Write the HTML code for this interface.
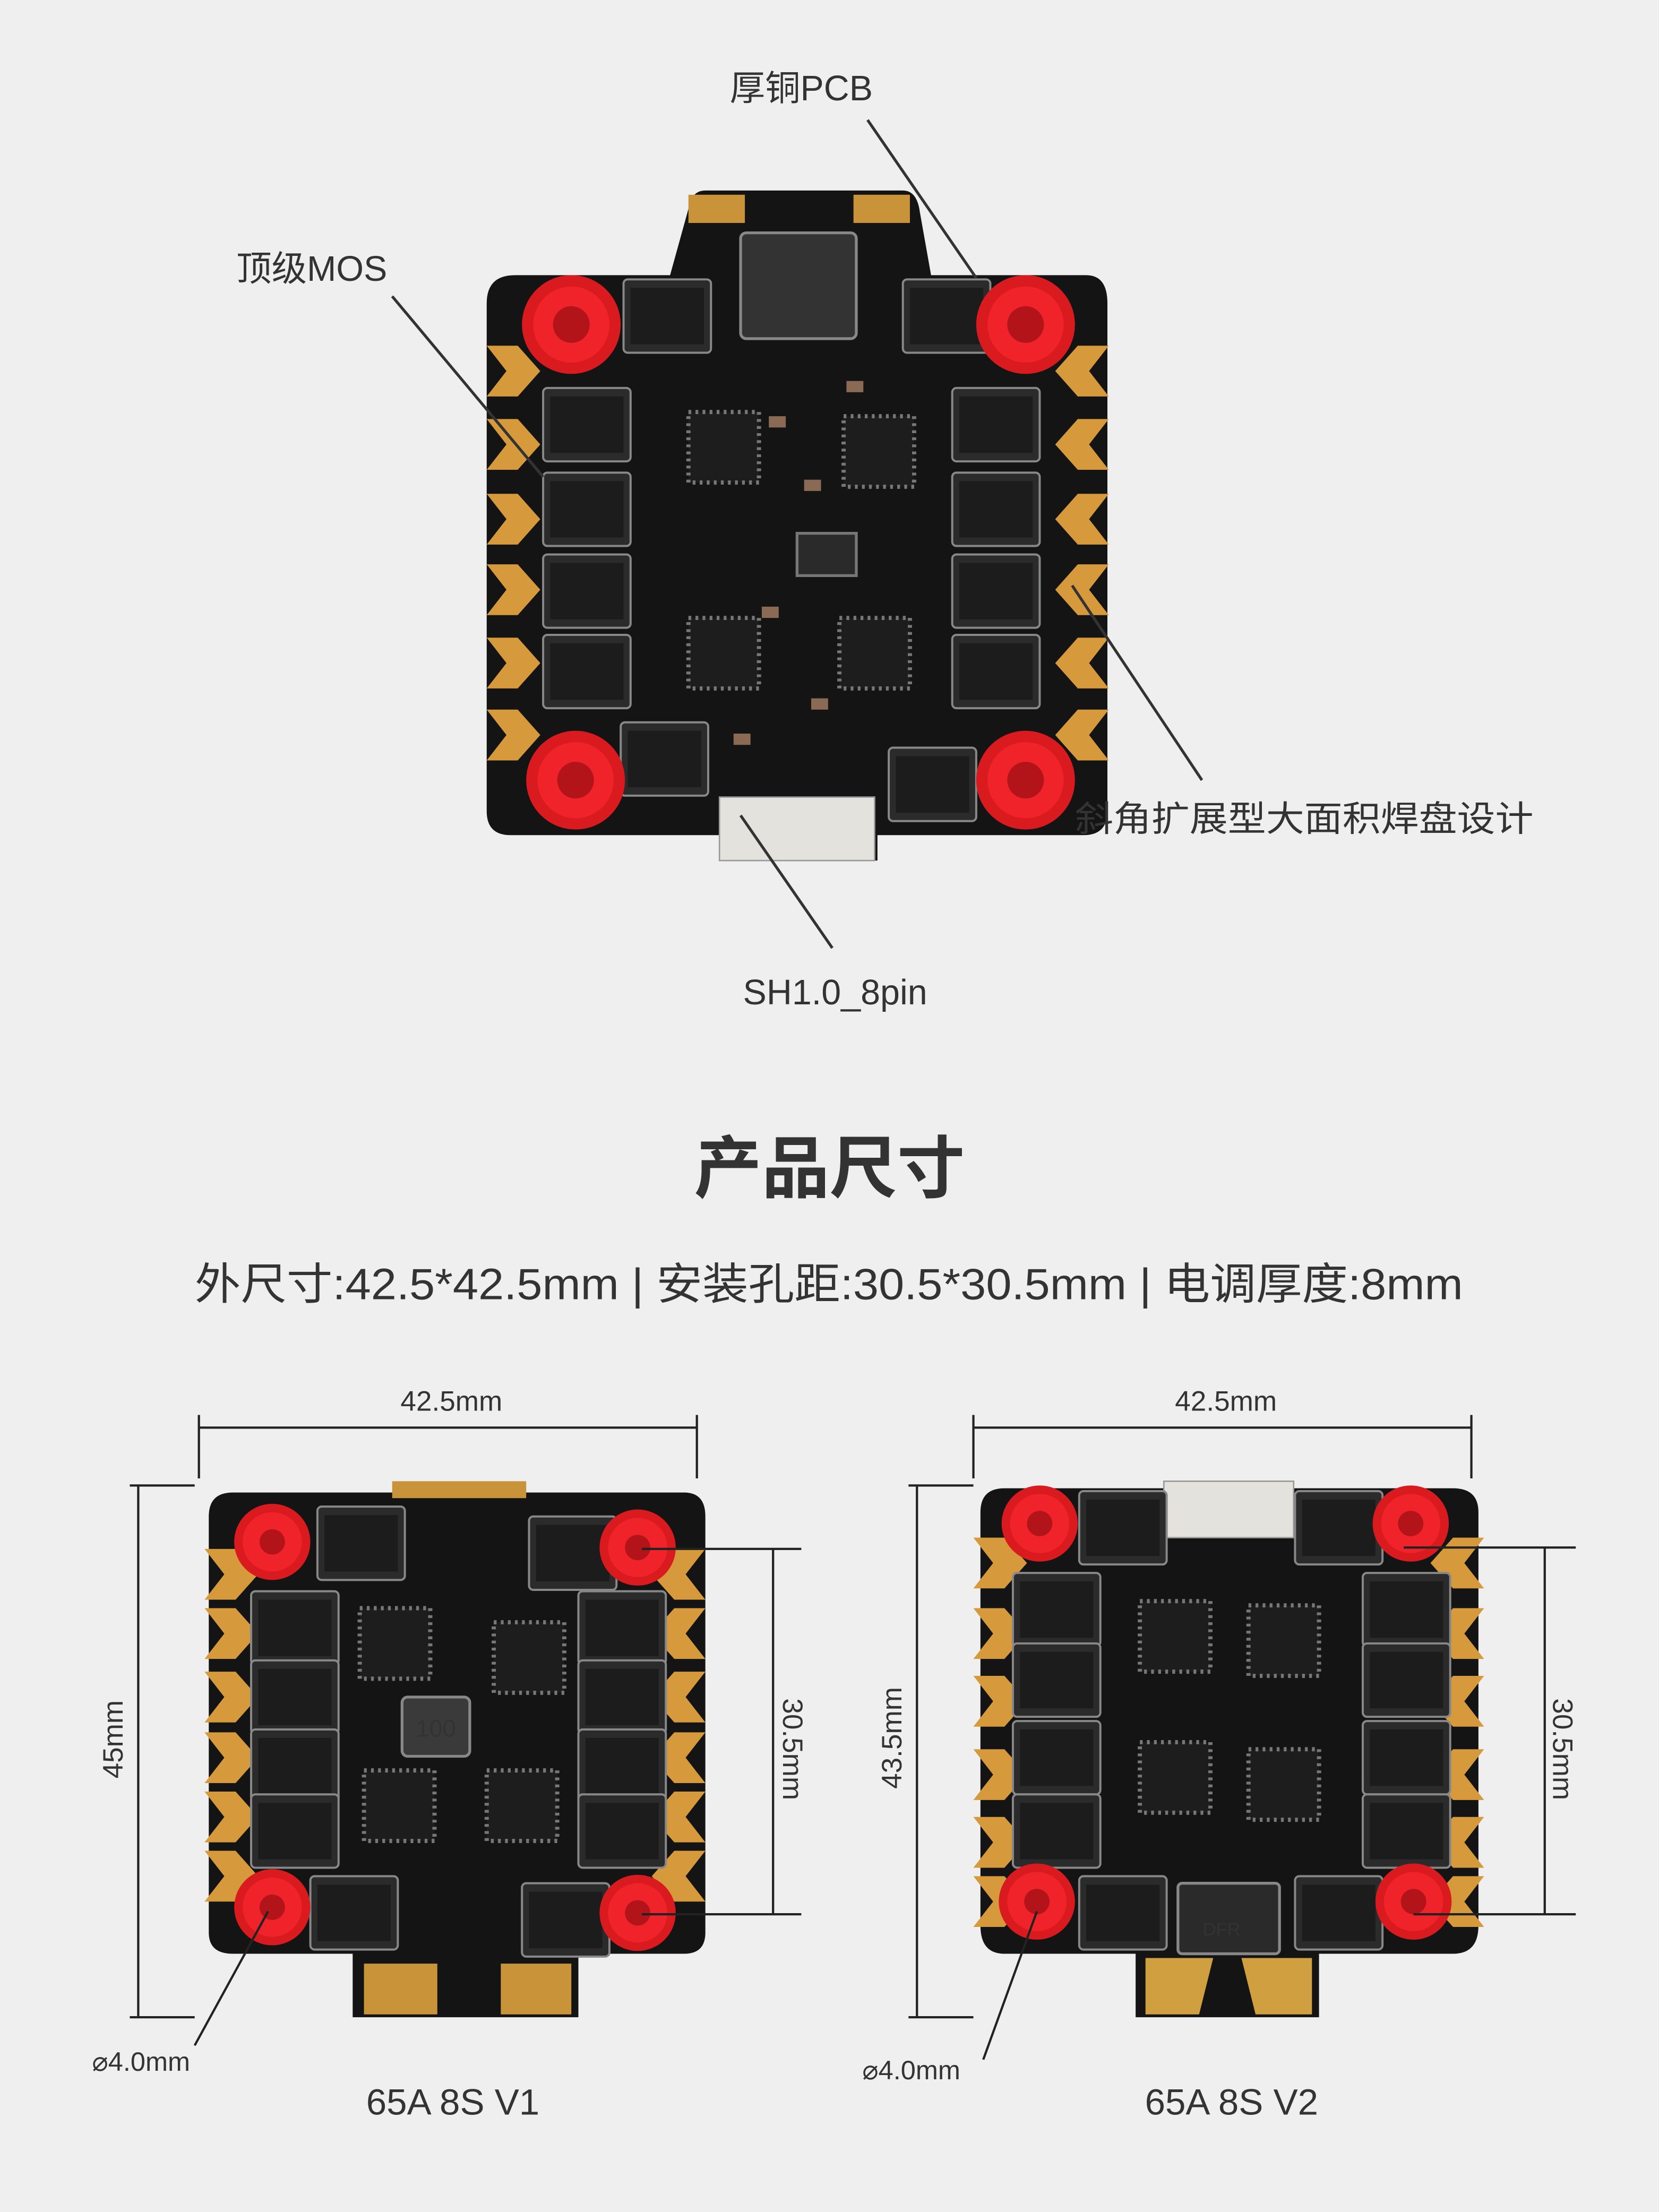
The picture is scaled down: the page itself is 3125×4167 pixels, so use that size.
<!DOCTYPE html>
<html><head><meta charset="utf-8">
<style>
html,body{margin:0;padding:0;background:#efefef;}
svg{display:block}
text{font-family:"Liberation Sans","Noto Sans CJK SC",sans-serif;fill:#333}
</style></head>
<body>
<svg width="3125" height="4167" viewBox="0 0 1176 1568" xmlns="http://www.w3.org/2000/svg">
<rect width="1176" height="1568" fill="#efefef"/>
<defs>
  <g id="mos">
    <rect x="0" y="0" width="62" height="52" rx="3" fill="#2b2b2b" stroke="#888" stroke-width="1.5"/>
    <rect x="5" y="6" width="52" height="40" fill="#1c1c1c"/>
  </g>
  <g id="ic">
    <rect x="0" y="0" width="50" height="50" fill="#1d1d1d" stroke="#777" stroke-dasharray="2 3" stroke-width="3"/>
  </g>
  <g id="post">
    <circle r="35" fill="#d91a1f"/>
    <circle r="27" fill="#f0232a"/>
    <circle r="13" fill="#b3141a"/>
  </g>
  <g id="postS">
    <circle r="27" fill="#d91a1f"/>
    <circle r="21" fill="#f0232a"/>
    <circle r="9" fill="#b3141a"/>
  </g>
  <g id="padL"><polygon points="0,0 22,0 38,18 22,36 0,36 14,18" fill="#d69a3c"/></g>
  <g id="padR"><polygon points="38,0 16,0 0,18 16,36 38,36 24,18" fill="#d69a3c"/></g>
</defs>

<!-- ===== TOP BOARD ===== -->
<g>
  <path d="M500,135 H640 Q650,135 652,150 L660,195 H770 Q785,195 785,215 V575 Q785,592 768,592 H622 V610 H510 V592 H362 Q345,592 345,575 V215 Q345,195 365,195 H475 L488,148 Q490,135 500,135 Z" fill="#141414"/>
  <g>
    <use href="#padL" x="345" y="245"/><use href="#padL" x="345" y="297"/><use href="#padL" x="345" y="350"/>
    <use href="#padL" x="345" y="400"/><use href="#padL" x="345" y="452"/><use href="#padL" x="345" y="503"/>
    <use href="#padR" x="748" y="245"/><use href="#padR" x="748" y="297"/><use href="#padR" x="748" y="350"/>
    <use href="#padR" x="748" y="400"/><use href="#padR" x="748" y="452"/><use href="#padR" x="748" y="503"/>
  </g>
  <rect x="488" y="138" width="40" height="20" fill="#c9933a"/>
  <rect x="605" y="138" width="40" height="20" fill="#c9933a"/>
  <rect x="525" y="165" width="82" height="75" rx="4" fill="#333" stroke="#888" stroke-width="2"/>
  <text x="566" y="210" font-size="18" fill="#ddd" text-anchor="middle" transform="rotate(90 566 203)">0m20</text>
  <use href="#mos" x="442" y="198"/><use href="#mos" x="640" y="198"/>
  <use href="#mos" x="385" y="275"/><use href="#mos" x="385" y="335"/><use href="#mos" x="385" y="393"/><use href="#mos" x="385" y="450"/>
  <use href="#mos" x="675" y="275"/><use href="#mos" x="675" y="335"/><use href="#mos" x="675" y="393"/><use href="#mos" x="675" y="450"/>
  <use href="#ic" x="488" y="292"/><use href="#ic" x="598" y="295"/>
  <use href="#ic" x="488" y="438"/><use href="#ic" x="595" y="438"/>
  <rect x="565" y="378" width="42" height="30" fill="#2a2a2a" stroke="#777" stroke-width="2"/>
  <use href="#mos" x="440" y="512"/><use href="#mos" x="630" y="530"/>
  <rect x="510" y="565" width="110" height="45" fill="#e4e2dc" stroke="#999"/>
  <g fill="#8a6a55">
    <rect x="545" y="295" width="12" height="8"/><rect x="570" y="340" width="12" height="8"/><rect x="540" y="430" width="12" height="8"/>
    <rect x="575" y="495" width="12" height="8"/><rect x="520" y="520" width="12" height="8"/><rect x="600" y="270" width="12" height="8"/>
  </g>
  <use href="#post" x="405" y="230"/><use href="#post" x="727" y="230"/>
  <use href="#post" x="408" y="553"/><use href="#post" x="727" y="553"/>
</g>

<!-- labels/leaders top -->
<g stroke="#333" stroke-width="2" fill="none">
  <line x1="615" y1="85" x2="692" y2="197"/>
  <line x1="278" y1="210" x2="385" y2="338"/>
  <line x1="760" y1="415" x2="852" y2="553"/>
  <line x1="525" y1="578" x2="590" y2="672"/>
</g>
<text x="568" y="71" font-size="25" text-anchor="middle">厚铜PCB</text>
<text x="221" y="199" font-size="25" text-anchor="middle">顶级MOS</text>
<text x="762" y="589" font-size="25" textLength="325" lengthAdjust="spacingAndGlyphs">斜角扩展型大面积焊盘设计</text>
<text x="592" y="712" font-size="25" text-anchor="middle">SH1.0_8pin</text>

<text x="588" y="845" font-size="48" font-weight="bold" text-anchor="middle" fill="#1a1a1a">产品尺寸</text>
<text x="138" y="921" font-size="31" textLength="899" lengthAdjust="spacingAndGlyphs" fill="#222">外尺寸:42.5*42.5mm | 安装孔距:30.5*30.5mm | 电调厚度:8mm</text>

<!-- ===== BOTTOM LEFT BOARD ===== -->
<g>
  <path d="M165,1058 H485 Q500,1058 500,1075 V1370 Q500,1385 485,1385 H410 V1430 H250 V1385 H165 Q148,1385 148,1370 V1075 Q148,1058 165,1058 Z" fill="#141414"/>
  <use href="#padL" x="145" y="1098"/><use href="#padL" x="145" y="1140"/><use href="#padL" x="145" y="1185"/>
  <use href="#padL" x="145" y="1228"/><use href="#padL" x="145" y="1270"/><use href="#padL" x="145" y="1312"/>
  <use href="#padR" x="462" y="1098"/><use href="#padR" x="462" y="1140"/><use href="#padR" x="462" y="1185"/>
  <use href="#padR" x="462" y="1228"/><use href="#padR" x="462" y="1270"/><use href="#padR" x="462" y="1312"/>
  <path d="M258,1392 H310 V1428 H258 Z M355,1392 H405 V1428 H355 Z" fill="#c9933a"/>
  <rect x="278" y="1050" width="95" height="12" fill="#c9933a"/>
  <use href="#mos" x="178" y="1128"/><use href="#mos" x="178" y="1177"/><use href="#mos" x="178" y="1226"/><use href="#mos" x="178" y="1272"/>
  <use href="#mos" x="410" y="1128"/><use href="#mos" x="410" y="1177"/><use href="#mos" x="410" y="1226"/><use href="#mos" x="410" y="1272"/>
  <use href="#mos" x="225" y="1068"/><use href="#mos" x="375" y="1075"/><use href="#mos" x="220" y="1330"/><use href="#mos" x="370" y="1335"/>
  <use href="#ic" x="255" y="1140"/><use href="#ic" x="350" y="1150"/><use href="#ic" x="258" y="1255"/><use href="#ic" x="345" y="1255"/>
  <rect x="285" y="1203" width="48" height="42" rx="4" fill="#3a3a3a" stroke="#888" stroke-width="2"/>
  <text x="309" y="1231" font-size="17" fill="#ddd" text-anchor="middle">100</text>
  <use href="#postS" x="193" y="1093"/><use href="#postS" x="452" y="1097"/>
  <use href="#postS" x="193" y="1352"/><use href="#postS" x="452" y="1356"/>
</g>

<!-- ===== BOTTOM RIGHT BOARD ===== -->
<g>
  <path d="M712,1055 H1030 Q1048,1055 1048,1072 V1365 Q1048,1385 1030,1385 H935 V1430 H805 V1385 H712 Q695,1385 695,1365 V1072 Q695,1055 712,1055 Z" fill="#141414"/>
  <use href="#padL" x="690" y="1090"/><use href="#padL" x="690" y="1140"/><use href="#padL" x="690" y="1188"/>
  <use href="#padL" x="690" y="1240"/><use href="#padL" x="690" y="1288"/><use href="#padL" x="690" y="1330"/>
  <use href="#padR" x="1014" y="1090"/><use href="#padR" x="1014" y="1140"/><use href="#padR" x="1014" y="1188"/>
  <use href="#padR" x="1014" y="1240"/><use href="#padR" x="1014" y="1288"/><use href="#padR" x="1014" y="1330"/>
  <path d="M812,1388 H860 L850,1428 H812 Z M880,1388 H930 V1428 H890 Z" fill="#d0a040"/>
  <rect x="825" y="1050" width="92" height="40" fill="#e4e2dc" stroke="#999"/>
  <use href="#mos" x="718" y="1115"/><use href="#mos" x="718" y="1165"/><use href="#mos" x="718" y="1220"/><use href="#mos" x="718" y="1272"/>
  <use href="#mos" x="966" y="1115"/><use href="#mos" x="966" y="1165"/><use href="#mos" x="966" y="1220"/><use href="#mos" x="966" y="1272"/>
  <use href="#mos" x="765" y="1057"/><use href="#mos" x="918" y="1057"/><use href="#mos" x="765" y="1330"/><use href="#mos" x="918" y="1330"/>
  <use href="#ic" x="808" y="1135"/><use href="#ic" x="885" y="1138"/><use href="#ic" x="808" y="1235"/><use href="#ic" x="885" y="1240"/>
  <rect x="835" y="1335" width="72" height="50" rx="3" fill="#2a2a2a" stroke="#888" stroke-width="2"/>
  <text x="866" y="1372" font-size="13" fill="#ccc" text-anchor="middle">DFR</text>
  <use href="#postS" x="737" y="1080"/><use href="#postS" x="1000" y="1080"/>
  <use href="#postS" x="735" y="1348"/><use href="#postS" x="1002" y="1348"/>
</g>

<!-- dimension lines -->
<g stroke="#222" stroke-width="1.6" fill="none">
  <line x1="141" y1="1012" x2="494" y2="1012"/>
  <line x1="141" y1="1003" x2="141" y2="1048"/><line x1="494" y1="1003" x2="494" y2="1048"/>
  <line x1="98" y1="1053" x2="98" y2="1430"/>
  <line x1="92" y1="1053" x2="138" y2="1053"/><line x1="92" y1="1430" x2="138" y2="1430"/>
  <line x1="548" y1="1098" x2="548" y2="1357"/>
  <line x1="455" y1="1098" x2="568" y2="1098"/><line x1="455" y1="1357" x2="568" y2="1357"/>
  <line x1="190" y1="1355" x2="138" y2="1450"/>

  <line x1="690" y1="1012" x2="1043" y2="1012"/>
  <line x1="690" y1="1003" x2="690" y2="1048"/><line x1="1043" y1="1003" x2="1043" y2="1048"/>
  <line x1="650" y1="1053" x2="650" y2="1430"/>
  <line x1="644" y1="1053" x2="690" y2="1053"/><line x1="644" y1="1430" x2="690" y2="1430"/>
  <line x1="1095" y1="1097" x2="1095" y2="1357"/>
  <line x1="995" y1="1097" x2="1117" y2="1097"/><line x1="1002" y1="1357" x2="1117" y2="1357"/>
  <line x1="735" y1="1355" x2="697" y2="1460"/>
</g>
<text x="320" y="1000" font-size="20" text-anchor="middle">42.5mm</text>
<text x="869" y="1000" font-size="20" text-anchor="middle">42.5mm</text>
<text font-size="20" text-anchor="middle" transform="translate(87 1233) rotate(-90)">45mm</text>
<text font-size="20" text-anchor="middle" transform="translate(639 1232) rotate(-90)">43.5mm</text>
<text font-size="20" text-anchor="middle" transform="translate(555 1240) rotate(90)">30.5mm</text>
<text font-size="20" text-anchor="middle" transform="translate(1101 1240) rotate(90)">30.5mm</text>
<text x="100" y="1468" font-size="19" text-anchor="middle">⌀4.0mm</text>
<text x="646" y="1474" font-size="19" text-anchor="middle">⌀4.0mm</text>
<text x="321" y="1499" font-size="26" text-anchor="middle" fill="#222">65A 8S V1</text>
<text x="873" y="1499" font-size="26" text-anchor="middle" fill="#222">65A 8S V2</text>
</svg>
</body></html>
